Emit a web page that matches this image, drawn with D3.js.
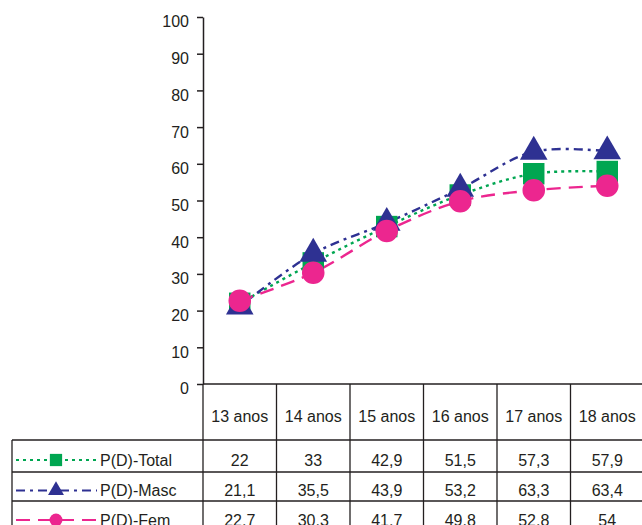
<!DOCTYPE html>
<html>
<head>
<meta charset="utf-8">
<script src="https://cdn.jsdelivr.net/npm/d3@7"></script>
<style>
  html, body { margin: 0; padding: 0; background: #fff; }
  svg { display: block; }
  text { font-family: "Liberation Sans", Arial, Helvetica, sans-serif; fill: #231f20; }
</style>
</head>
<body>
<svg id="chart" width="642" height="525"></svg>
<script>
// Ages on the category axis
const categories = ["13 anos", "14 anos", "15 anos", "16 anos", "17 anos", "18 anos"];
// Percentages per series
const totalValues = [22, 33, 42.9, 51.5, 57.3, 57.9];
const mascValues = [21.1, 35.5, 43.9, 53.2, 63.3, 63.4];
const femValues = [22.7, 30.3, 41.7, 49.8, 52.8, 54];
const seriesNames = ["P(D)-Total", "P(D)-Masc", "P(D)-Fem"];
const yTicks = [0, 10, 20, 30, 40, 50, 60, 70, 80, 90, 100];

const series = [
  { name: seriesNames[0], values: totalValues, color: "#00a651", dash: "3,4", symbol: d3.symbolSquare },
  { name: seriesNames[1], values: mascValues, color: "#2e3192", dash: "9,5,3,5", symbol: d3.symbolTriangle },
  { name: seriesNames[2], values: femValues, color: "#ec268f", dash: "14,8", symbol: d3.symbolCircle }
];

const svg = d3.select("#chart");
const ink = "#231f20";
const textDy = "0.62em";

const plotLeft = 203, plotRight = 644, plotTop = 17, plotBottom = 384;
const tableLeft = 12;
const rowLines = [440, 472, 501, 531];

const x = d3.scaleBand().domain(categories).range([plotLeft, plotRight]);
const y = d3.scaleLinear().domain([0, 100]).range([plotBottom, plotTop]);

// Value axis
const yAxis = d3.axisLeft(y).tickValues(yTicks).tickSize(6).tickPadding(8).tickSizeOuter(0);
const gy = svg.append("g").attr("transform", `translate(${plotLeft},0)`).call(yAxis);
gy.select(".domain").attr("stroke", ink).attr("stroke-width", 1.5);
gy.selectAll(".tick line").attr("stroke", ink).attr("stroke-width", 1.5);
gy.selectAll(".tick text").attr("font-size", 16).attr("fill", ink).attr("dy", textDy)
  .style("font-family", "'Liberation Sans', Arial, sans-serif");

// Category axis line (top of the data table)
svg.append("line")
  .attr("x1", plotLeft).attr("x2", plotRight)
  .attr("y1", plotBottom).attr("y2", plotBottom)
  .attr("stroke", ink).attr("stroke-width", 1.5);

// Data table grid
const grid = svg.append("g").attr("stroke", ink).attr("stroke-width", 1.3);
categories.forEach(c => {
  grid.append("line")
    .attr("x1", x(c)).attr("x2", x(c))
    .attr("y1", plotBottom).attr("y2", rowLines[rowLines.length - 1]);
});
grid.append("line")
  .attr("x1", tableLeft).attr("x2", tableLeft)
  .attr("y1", rowLines[0]).attr("y2", rowLines[rowLines.length - 1]);
rowLines.forEach(ry => {
  grid.append("line")
    .attr("x1", tableLeft).attr("x2", plotRight)
    .attr("y1", ry).attr("y2", ry);
});

// Column headers
svg.append("g").selectAll("text").data(categories).join("text")
  .attr("x", d => x(d) + x.bandwidth() / 2)
  .attr("y", (plotBottom + rowLines[0]) / 2)
  .attr("dy", textDy)
  .attr("text-anchor", "middle")
  .attr("font-size", 16)
  .text(d => d);

// Values in the table, with a comma as decimal separator
const fmt = d3.formatLocale({ decimal: ",", thousands: ".", grouping: [3], currency: ["", ""] }).format("~f");

series.forEach((s, i) => {
  const cy = (rowLines[i] + rowLines[i + 1]) / 2;
  svg.append("g").selectAll("text").data(s.values).join("text")
    .attr("x", (d, j) => x(categories[j]) + x.bandwidth() / 2)
    .attr("y", cy)
    .attr("dy", textDy)
    .attr("text-anchor", "middle")
    .attr("font-size", 16)
    .text(d => fmt(d));

  // Legend key in the row header
  const ky = cy + 4;
  const key = svg.append("g");
  key.append("line")
    .attr("x1", 16).attr("x2", 97)
    .attr("y1", ky).attr("y2", ky)
    .attr("stroke", s.color).attr("stroke-width", 1.8)
    .attr("stroke-dasharray", s.dash);
  key.append("path")
    .attr("d", d3.symbol().type(s.symbol).size(s.symbol === d3.symbolCircle ? 130 : (s.symbol === d3.symbolTriangle ? 110 : 150))())
    .attr("transform", `translate(56,${ky})`)
    .attr("fill", s.color);
  key.append("text")
    .attr("x", 100).attr("y", cy)
    .attr("dy", textDy)
    .attr("font-size", 16)
    .text(s.name);
});

// Smoothed series lines
const line = d3.line()
  .x((d, j) => x(categories[j]) + x.bandwidth() / 2)
  .y(d => y(d))
  .curve(d3.curveCatmullRom.alpha(0.5));

series.forEach(s => {
  svg.append("path")
    .datum(s.values)
    .attr("d", line)
    .attr("fill", "none")
    .attr("stroke", s.color)
    .attr("stroke-width", 2.4)
    .attr("stroke-dasharray", s.dash);
});

// Markers
series.forEach(s => {
  const size = s.symbol === d3.symbolCircle ? 400 : (s.symbol === d3.symbolTriangle ? 330 : 460);
  svg.append("g").selectAll("path").data(s.values).join("path")
    .attr("d", d3.symbol().type(s.symbol).size(size)())
    .attr("transform", (d, j) => `translate(${x(categories[j]) + x.bandwidth() / 2},${y(d)})`)
    .attr("fill", s.color);
});
</script>
</body>
</html>
